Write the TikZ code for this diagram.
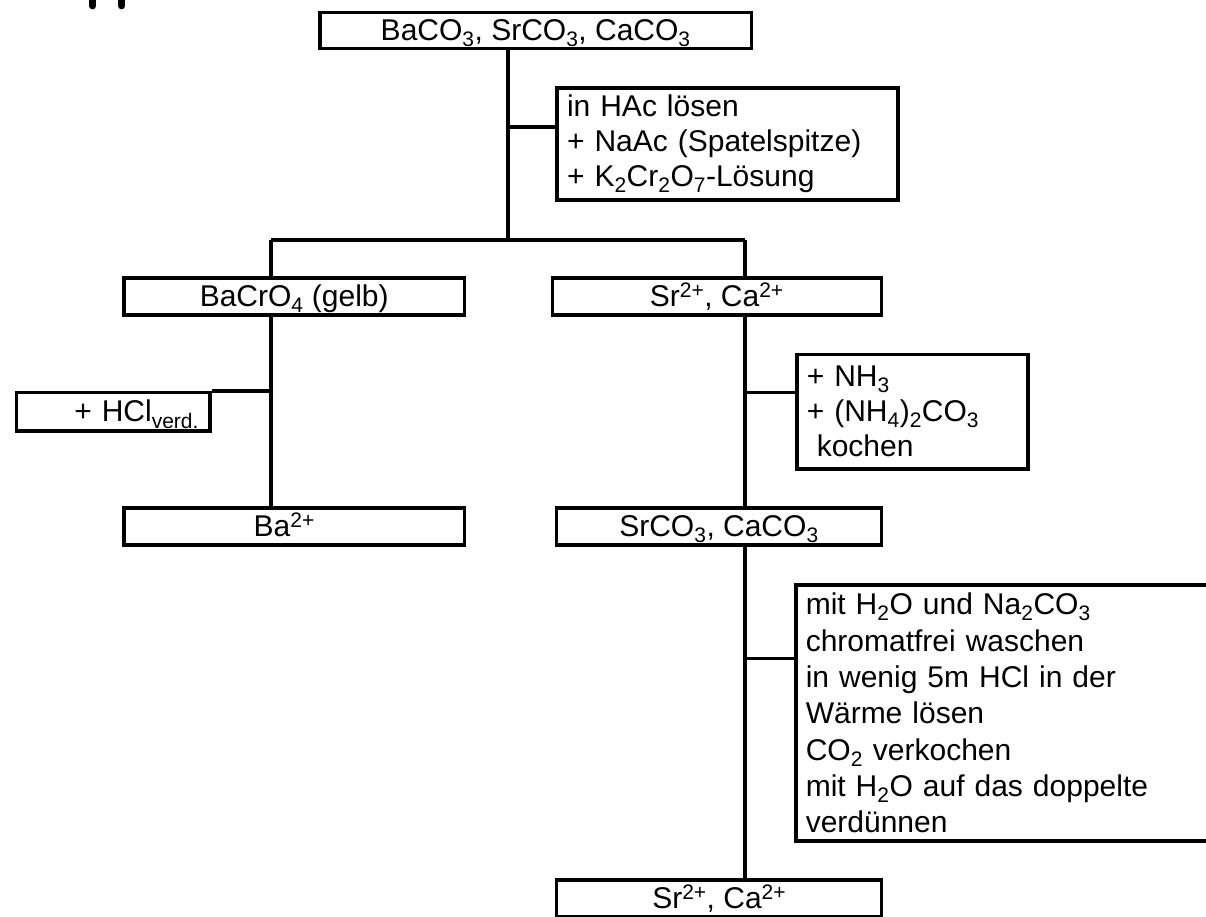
\documentclass[tikz,border=0pt]{standalone}
\usepackage{fontspec}
\setmainfont{Liberation Sans}
\usepackage{tikz}

\begin{document}
\begin{tikzpicture}[x=1pt, y=-1pt, line width=3.5pt,
  every node/.style={font=\fontsize{30}{35}\selectfont},
  salt/.style={draw, inner sep=0pt, text height=22pt, text depth=2pt},
  reagent/.style={draw, inner xsep=10pt, inner ysep=0pt, align=left}]
\useasboundingbox (0,0) rectangle (1206,916);
\clip (0,0) rectangle (1206,916);
% stray marks top left
\draw[line width=6.7pt, line cap=round] (92.7,-5) -- (92.7,6);
\draw[line width=6.7pt, line cap=round] (121.7,-5) -- (121.7,6);
% salts and solutions
\node[salt, minimum width=431.5pt, minimum height=36.2pt] (start) at (535.7,30.6) {BaCO\textsubscript{3}, SrCO\textsubscript{3}, CaCO\textsubscript{3}};
\node[reagent, minimum height=112pt, text width=321pt] (reagA) at (727.5,144) {in HAc lösen\\+ NaAc (Spatelspitze)\\+ K\textsubscript{2}Cr\textsubscript{2}O\textsubscript{7}-Lösung};
\node[salt, minimum width=340.5pt, minimum height=37pt] (baCrO) at (294.2,296.5) {BaCrO\textsubscript{4} (gelb)};
\node[salt, minimum width=329pt, minimum height=37pt] (srCa) at (716.8,296.5) {Sr\textsuperscript{2+}, Ca\textsuperscript{2+}};
\node[draw, inner xsep=11pt, inner ysep=0pt, text height=22pt, text depth=2pt, align=right, text width=171.3pt, minimum height=38.3pt] (hcl) at (113.3,411.8) {+ HCl\textsubscript{verd.}};
\node[reagent, minimum height=114.7pt, text width=211.3pt] (reagB) at (912.4,411.7) {+ NH\textsubscript{3}\\+ (NH\textsubscript{4})\textsubscript{2}CO\textsubscript{3}\\\ kochen};
\node[salt, minimum width=340.5pt, minimum height=37pt] (ba) at (294.2,526.5) {Ba\textsuperscript{2+}\hspace*{20pt}};
\node[salt, minimum width=324.6pt, minimum height=37pt] (srCaCO) at (719,526.5) {SrCO\textsubscript{3}, CaCO\textsubscript{3}};
\node[reagent, font=\fontsize{30}{36.3}\selectfont, minimum height=256pt, text width=404.3pt] (reagC) at (1007.9,713) {mit H\textsubscript{2}O und Na\textsubscript{2}CO\textsubscript{3}\\chromatfrei waschen\\in wenig 5m HCl in der\\Wärme lösen\\CO\textsubscript{2} verkochen\\mit H\textsubscript{2}O auf das doppelte\\verdünnen};
\node[salt, minimum width=325pt, minimum height=37pt] (srCaEnd) at (719.2,898.5) {Sr\textsuperscript{2+}, Ca\textsuperscript{2+}};
% tree lines
\coordinate (trunk) at (508,240);
\coordinate (armL) at (271,240);
\coordinate (armR) at (745,240);
\coordinate (forkA) at (508,127);
\coordinate (forkB) at (745,392.7);
\coordinate (forkC) at (745,658.3);
\draw (start.south -| trunk) -- (trunk);
\draw (forkA) -- (forkA -| reagA.west);
\draw (armL) -- (armR);
\draw (armL) -- (armL |- baCrO.north);
\draw (armR) -- (armR |- srCa.north);
\draw (baCrO.south -| armL) -- (ba.north -| armL);
\draw (hcl.north east) -- (hcl.north east -| armL);
\draw (srCa.south -| armR) -- (srCaCO.north -| armR);
\draw (forkB) -- (forkB -| reagB.west);
\draw (srCaCO.south -| armR) -- (srCaEnd.north -| armR);
\draw (forkC) -- (forkC -| reagC.west);
\end{tikzpicture}
\end{document}
